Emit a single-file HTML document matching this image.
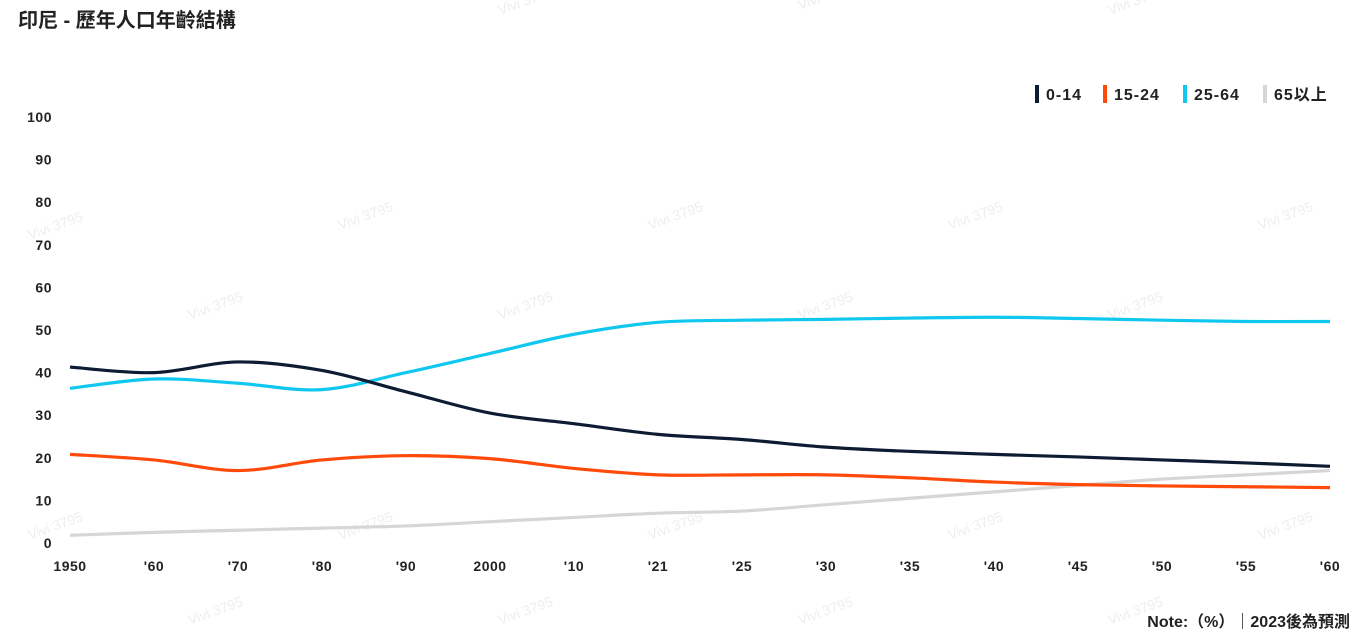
<!DOCTYPE html>
<html><head><meta charset="utf-8">
<style>
body{margin:0;background:#fff;width:1358px;height:635px;overflow:hidden;font-family:"Liberation Sans","Noto Sans CJK TC",sans-serif;}
#title{position:absolute;left:18px;top:4px;font-size:20px;font-weight:bold;color:#222;}
</style></head><body>
<div id="title">印尼 - 歷年人口年齡結構</div>
<svg id="chart" width="1358" height="635" style="position:absolute;left:0;top:0"></svg>
<script>
const categories=["1950","'60","'70","'80","'90","2000","'10","'21","'25","'30","'35","'40","'45","'50","'55","'60"];
const yTicks=[0,10,20,30,40,50,60,70,80,90,100];
const seriesNames=["0-14","15-24","25-64","65以上"];
const seriesColors=["#0d1b33","#ff4a0a","#10c8ef","#d6d6d6"];
const age0_14=[41.3,40,42.5,40.5,35.5,30.5,28,25.5,24.3,22.5,21.5,20.8,20.2,19.5,18.8,18];
const age15_24=[20.8,19.5,17,19.5,20.5,19.8,17.5,16,16,16,15.3,14.3,13.7,13.4,13.2,13];
const age25_64=[36.3,38.5,37.5,36,40,44.5,49,51.8,52.3,52.5,52.8,53,52.7,52.3,52,52];
const age65=[1.8,2.5,3,3.5,4,5,6,7,7.5,9,10.5,12,13.5,15,16,17];
const series=[age0_14,age15_24,age25_64,age65];
const svg=document.getElementById('chart');
const NS="http://www.w3.org/2000/svg";
const x0=70,dx=84,yBase=543,yTop=117;
const X=i=>x0+i*dx;
const Y=v=>yBase-(v/100)*(yBase-yTop);
function mk(t,a,txt){const e=document.createElementNS(NS,t);for(const k in a)e.setAttribute(k,a[k]);if(txt!==undefined)e.textContent=txt;svg.appendChild(e);return e;}
const wm=[[500,15],[800,10],[1110,15],[30,240],[340,230],[650,230],[950,230],[1260,230],[190,320],[500,320],[800,320],[1110,320],[30,540],[340,540],[650,540],[950,540],[1260,540],[190,625],[500,625],[800,625],[1110,625]];
wm.forEach(p=>{const t=mk('text',{x:p[0],y:p[1],fill:'#eee','font-size':14,transform:`rotate(-20 ${p[0]} ${p[1]})`},'Vivi 3795');

});
yTicks.forEach(v=>{const t=mk('text',{x:52,y:Y(v)+5,'text-anchor':'end','font-size':14,'font-weight':'bold',fill:'#222','letter-spacing':0.5},v);

});
categories.forEach((c,i)=>{const t=mk('text',{x:X(i),y:571,'text-anchor':'middle','font-size':14,'font-weight':'bold',fill:'#222','letter-spacing':0.5},c);

});
function path(vals){const p=vals.map((v,i)=>[X(i),Y(v)]);let d=`M${p[0][0]},${p[0][1]}`;
for(let i=0;i<p.length-1;i++){const a=p[Math.max(0,i-1)],b=p[i],c=p[i+1],e=p[Math.min(p.length-1,i+2)];
const c1=[b[0]+(c[0]-a[0])/6,b[1]+(c[1]-a[1])/6],c2=[c[0]-(e[0]-b[0])/6,c[1]-(e[1]-b[1])/6];
d+=` C${c1[0]},${c1[1]} ${c2[0]},${c2[1]} ${c[0]},${c[1]}`;}return d;}
[3,1,2,0].forEach(s=>{const l=mk('path',{d:path(series[s]),fill:'none',stroke:seriesColors[s],'stroke-width':3.2});

});
const lx=[1035,1103,1183,1263];
seriesNames.forEach((n,i)=>{const r=mk('rect',{x:lx[i],y:85,width:4,height:18,fill:seriesColors[i]});


const t=mk('text',{x:lx[i]+11,y:100,'font-size':16,'font-weight':'bold',fill:'#222','letter-spacing':1},n);

});
const note=mk('text',{x:1350,y:627,'text-anchor':'end','font-size':16,'font-weight':'bold',fill:'#222'},'Note:（%）｜2023後為預測');


</script>
</body></html>
